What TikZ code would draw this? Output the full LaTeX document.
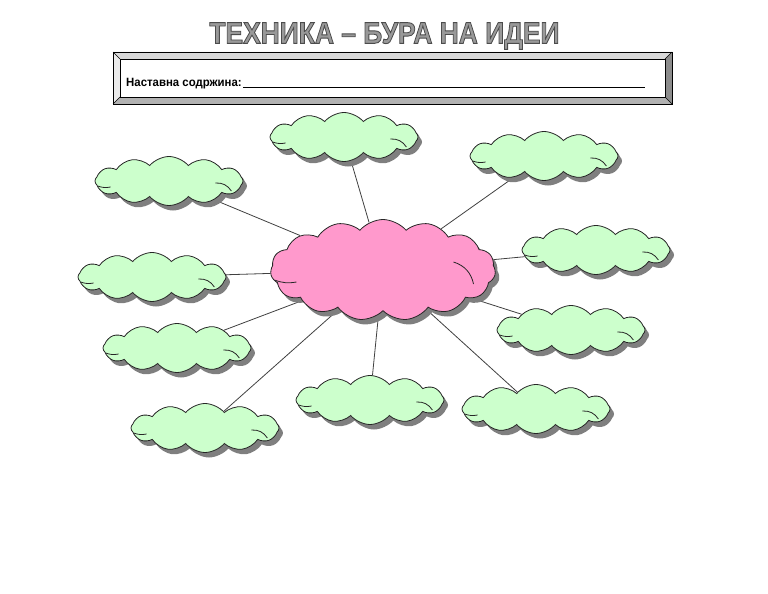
\documentclass[tikz,border=0pt]{standalone}
\usepackage{fontspec}
\setmainfont{Liberation Sans}
\usetikzlibrary{shapes.symbols,shadows,backgrounds}

\definecolor{ideagreen}{HTML}{CCFFCC}
\definecolor{ideapink}{HTML}{FF99CC}
\definecolor{shadowgray}{HTML}{7F7F7F}

% outlined letters (fill + stroke)
\newcommand{\outlinetext}[1]{\special{pdf:literal direct 2 Tr 0.9 w 0.3 G}#1\special{pdf:literal direct 0 Tr}}

\begin{document}
\begin{tikzpicture}[x=1pt,y=-1pt,
    cloud_node/.style={cloud, cloud puffs=12, cloud puff arc=100, cloud ignores aspect,
        draw=black!85, line width=0.8pt, fill=ideagreen, inner sep=0pt,
        minimum width=148pt, minimum height=49pt,
        drop shadow={shadow xshift=4pt, shadow yshift=-5pt, fill=shadowgray, opacity=1}},
    main_node/.style={cloud_node, cloud puffs=15, fill=ideapink,
        minimum width=225pt, minimum height=101pt},
    puff_line/.style={draw=black!85, line width=0.8pt},
    link/.style={draw=black!75, line width=0.8pt}]

    \useasboundingbox (0,0) rectangle (768,594);

    % title
    \node[text=black!40, font=\bfseries\fontsize{30}{30}\selectfont] (title) at (384.5,36)
        {\scalebox{0.88}[1]{\outlinetext{ТЕХНИКА – БУРА НА ИДЕИ}}};

    % banner
    \fill[black!15] (113,52) -- (672,52) -- (665,59) -- (120,59) -- cycle;
    \fill[black!8] (113,52) -- (120,59) -- (120,97) -- (113,104) -- cycle;
    \fill[black!45] (672,52) -- (665,59) -- (665,97) -- (672,104) -- cycle;
    \fill[black!30] (113,104) -- (120,97) -- (665,97) -- (672,104) -- cycle;
    \draw[line width=0.8pt] (113,52) rectangle (672,104);
    \draw[line width=0.6pt] (120,59) rectangle (665,97);
    \draw[line width=0.5pt] (113,52) -- (120,59) (672,52) -- (665,59)
        (113,104) -- (120,97) (672,104) -- (665,97);
    \node[anchor=base west, font=\bfseries\fontsize{12}{12}\selectfont, inner sep=0pt]
        (topic) at (126,86) {\scalebox{0.95}[1]{Наставна содржина:}};
    \draw[line width=0.7pt] (topic.base east) ++(1,1) coordinate (lineA) -- (645,87) coordinate (lineB);

    % clouds
    \node[main_node] (idea) at (383,270) {};
    \node[cloud_node] (n1) at (344,137) {};
    \node[cloud_node] (n2) at (169,181) {};
    \node[cloud_node] (n3) at (544,156) {};
    \node[cloud_node] (n4) at (152,277) {};
    \node[cloud_node] (n5) at (596,250) {};
    \node[cloud_node] (n6) at (177,348) {};
    \node[cloud_node] (n7) at (571,330) {};
    \node[cloud_node] (n8) at (205,428) {};
    \node[cloud_node] (n9) at (370,400) {};
    \node[cloud_node] (n10) at (536,409) {};

    % little inner puff strokes
    \foreach \n in {n1,n2,n3,n4,n5,n6,n7,n8,n9,n10} {
        \draw[puff_line] ([shift={(3,5)}]\n.west) to[bend right=15] ([shift={(16,6)}]\n.west);
        \draw[puff_line] ([shift={(-28,2)}]\n.east) to[bend left=30] ([shift={(-12,10)}]\n.east);
    }
    \draw[puff_line] ([shift={(4,10)}]idea.west) to[bend right=15] ([shift={(26,12)}]idea.west);
    \draw[puff_line] ([shift={(-42,-8)}]idea.east) to[bend left=30] ([shift={(-22,14)}]idea.east);

    \begin{pgfonlayer}{background}
    \path[link]
    (idea) edge (n1)
    (idea) edge (n2)
    (idea) edge (n3)
    (idea) edge (n4)
    (idea) edge (n5)
    (idea) edge (n6)
    (idea) edge (n7)
    (idea) edge (n8)
    (idea) edge (n9)
    (idea) edge (n10)
    ;
    \end{pgfonlayer}
\end{tikzpicture}
\end{document}
